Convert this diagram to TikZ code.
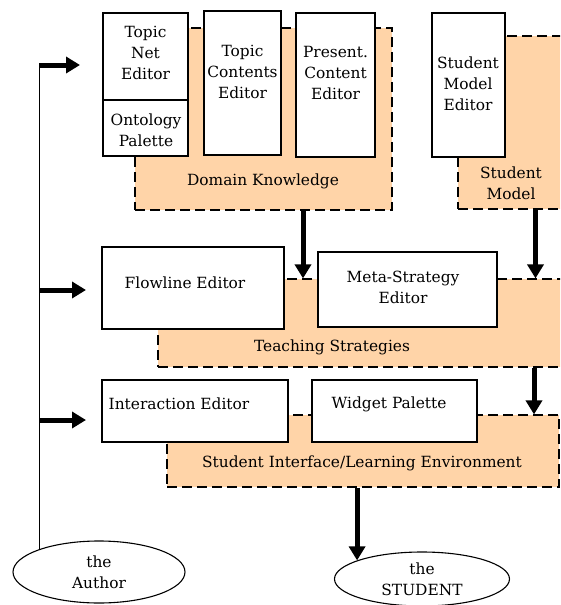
\documentclass[tikz,border=0pt]{standalone}
\usepackage{fontspec}
\setmainfont{DejaVu Serif}
\usepackage{tikz}
\usetikzlibrary{shapes.geometric}
\usetikzlibrary{arrows.meta}
\definecolor{peach}{RGB}{255,212,168}

\begin{document}
\begin{tikzpicture}[x=1pt, y=-1pt,
        font=\fontsize{15.4}{21}\selectfont,
        editor/.style={rectangle, draw, line width=1.2pt, fill=white, inner sep=0pt},
        region/.style={rectangle, draw, line width=1.2pt, fill=peach, dash pattern=on 10pt off 5pt, inner sep=0pt},
        person/.style={ellipse, draw, line width=1.1pt, inner sep=0pt, align=center},
        bigarrow/.style={line width=5pt, -{Triangle[width=16pt,length=14pt]}}]
        \useasboundingbox (0,0) rectangle (560,605);
        \clip (0,0) rectangle (560,605);

        % Regions
        \node[region, minimum width=257pt, minimum height=182pt] (DK) at (263.5, 119) {};
        \node[region, minimum width=108pt, minimum height=173pt] (SM) at (512, 122.5) {};
        \node[region, minimum width=408pt, minimum height=88pt] (TS) at (362, 323) {};
        \node[region, minimum width=392pt, minimum height=72pt] (SILE) at (363, 451) {};

        % Editors
        \node[editor, minimum width=85pt, minimum height=87pt] (TNE) at (145.5, 56.5) {};
        \node[editor, minimum width=85pt, minimum height=56pt] (ONT) at (145.5, 128) {};
        \node[editor, minimum width=77pt, minimum height=144pt] (TCE) at (242.5, 83) {};
        \node[editor, minimum width=79pt, minimum height=144pt] (PCE) at (335.5, 85) {};
        \node[editor, minimum width=73pt, minimum height=144pt] (SME) at (468.5, 85) {};
        \node[editor, minimum width=182pt, minimum height=82pt] (FLE) at (193, 288) {};
        \node[editor, minimum width=179pt, minimum height=75pt] (MSE) at (407.5, 289.5) {};
        \node[editor, minimum width=186pt, minimum height=62pt] (IE) at (195, 411) {};
        \node[editor, minimum width=165pt, minimum height=62pt] (WP) at (394.5, 411) {};

        % Texts
        \node[align=center] (TNEtxt) at (145.5, 53) {Topic\\Net\\Editor};
        \node[align=center] (ONTtxt) at (146, 130) {Ontology\\Palette};
        \node[align=center] (TCEtxt) at (242.5, 72) {Topic\\Contents\\Editor};
        \node[align=center] (PCEtxt) at (335.5, 73) {Present.\\Content\\Editor};
        \node[align=center] (SMEtxt) at (468, 84) {Student\\Model\\Editor};
        \node[align=center] (SMtxt) at (511, 183) {Student\\Model};
        \node (DKtxt) at (263, 181) {Domain Knowledge};
        \node (FLEtxt) at (185, 283) {Flowline Editor};
        \node[align=center] (MSEtxt) at (403, 287) {Meta-Strategy\\Editor};
        \node (TStxt) at (332, 347) {Teaching Strategies};
        \node (IEtxt) at (179, 404) {Interaction Editor};
        \node (WPtxt) at (389, 404) {Widget Palette};
        \node (SILEtxt) at (362, 463) {Student Interface/Learning Environment};

        % People
        \node[person, minimum width=172pt, minimum height=62pt] (AUT) at (99, 572) {the\\Author};
        \node[person, minimum width=175pt, minimum height=54pt] (STU) at (422, 579) {the\\STUDENT};

        % Arrows down
        \coordinate (dkout) at ([xshift=39.5pt]DK.south);
        \coordinate (smout) at ([xshift=23.5pt]SM.south);
        \coordinate (tsout) at ([xshift=172pt]TS.south);
        \draw[bigarrow] (dkout) -- (dkout |- TS.north);
        \draw[bigarrow] (smout) -- (smout |- TS.north);
        \draw[bigarrow] (tsout) -- (tsout |- SILE.north);
        \draw[bigarrow] (STU.164 |- SILE.south) -- (STU.164);

        % Author arrows
        \coordinate (a1) at (80, 65);
        \coordinate (a2) at (86, 290);
        \coordinate (a3) at (86, 420);
        \draw[line width=1.8pt] (AUT.159) -- (AUT.159 |- a1);
        \draw[bigarrow] (AUT.159 |- a1) -- (a1);
        \draw[bigarrow] (AUT.159 |- a2) -- (a2);
        \draw[bigarrow] (AUT.159 |- a3) -- (a3);
\end{tikzpicture}
\end{document}
